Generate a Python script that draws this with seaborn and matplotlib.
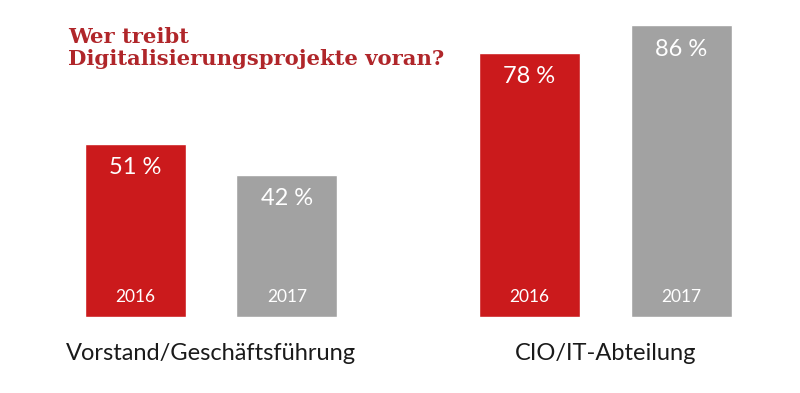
import matplotlib
matplotlib.use("Agg")
import matplotlib.pyplot as plt
import seaborn as sns
import pandas as pd

groups = ["Vorstand/Geschäftsführung", "Vorstand/Geschäftsführung", "CIO/IT-Abteilung", "CIO/IT-Abteilung"]
years = ["2016", "2017", "2016", "2017"]
values = [51, 42, 78, 86]
value_labels = ["51 %", "42 %", "78 %", "86 %"]
group_names = ["Vorstand/Geschäftsführung", "CIO/IT-Abteilung"]
year_names = ["2016", "2017"]
title = "Wer treibt\nDigitalisierungsprojekte voran?"

RED = "#CB1A1C"
GRAY = "#A2A2A2"
TITLE_RED = "#B0262A"

df = pd.DataFrame({"group": groups, "year": years, "value": values})

sns.set_theme(style="white")
plt.rcParams["font.family"] = ["Lato", "DejaVu Sans"]

fig = plt.figure(figsize=(8, 3.93), dpi=100)
ax = fig.add_axes([0, 76 / 393, 1, 317 / 393])

sns.barplot(data=df, x="group", y="value", hue="year", order=group_names,
            hue_order=year_names, palette=[RED, GRAY], width=0.77, gap=0.334,
            legend=False, ax=ax, saturation=1)

ax.set_xlim(-211 / 394.25, (800 - 211) / 394.25)
ax.set_ylim(0, 317 / 3.39)
ax.set_axis_off()

# label bars
bars = []
for cont in ax.containers:
    bars.extend(list(cont))
bars.sort(key=lambda b: b.get_x())
for b, lab, yr in zip(bars, value_labels, years):
    cx = b.get_x() + b.get_width() / 2
    ax.annotate(lab, (cx, b.get_height()), xytext=(0, -17), textcoords="offset points",
                ha="center", va="center", color="white", fontsize=17)
    ax.annotate(yr, (cx, 0), xytext=(0, 14.4), textcoords="offset points",
                ha="center", va="center", color="white", fontsize=12.5)

for i, g in enumerate(group_names):
    ax.annotate(g, (i, 0), xytext=(0, -26), textcoords="offset points",
                ha="center", va="center", color="#1a1a1a", fontsize=17,
                annotation_clip=False)

fig.text(68 / 800, 1 - 27 / 393, title, ha="left", va="top", color=TITLE_RED,
         fontsize=15.2, fontweight="bold", family=["DejaVu Serif"], linespacing=1.1)

fig.savefig("out.png", dpi=100, facecolor="white")
